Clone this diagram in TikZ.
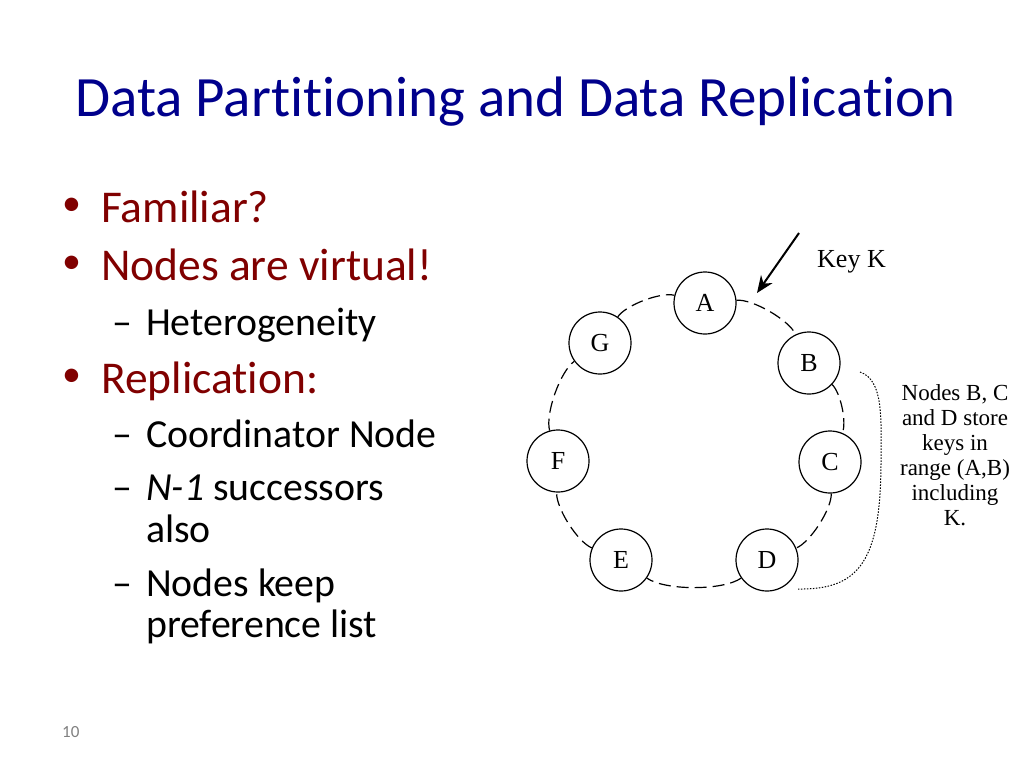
\documentclass[tikz,border=0pt]{standalone}
\usepackage{fontspec}
\setmainfont{Carlito}[RawFeature=-liga]
\newfontfamily\ringfont{Liberation Serif}
\usetikzlibrary{positioning,arrows.meta}
\definecolor{titleblue}{RGB}{0,0,140}
\definecolor{bulletred}{RGB}{128,0,0}
\definecolor{pagegray}{RGB}{128,128,128}
\tikzset{
  slidetitle/.style={anchor=base west,inner sep=0pt,text=titleblue,font=\fontsize{57}{68}\selectfont},
  bulletmark/.style={anchor=base west,inner sep=0pt,text=bulletred,font=\fontsize{38}{45}\selectfont},
  levelone/.style={anchor=base west,inner sep=0pt,text=bulletred,font=\fontsize{45.5}{54}\selectfont},
  leveltwo/.style={anchor=base west,inner sep=0pt,font=\fontsize{39.8}{48}\selectfont},
  ringnode/.style={circle,draw,line width=1.2pt,fill=white,minimum size=62pt,inner sep=0pt,font=\ringfont\fontsize{26}{30}\selectfont},
  ringline/.style={line width=1.2pt,dash pattern=on 12pt off 6pt,bend left=35,looseness=0.6},
  ringtext/.style={inner sep=0pt,font=\ringfont\fontsize{23}{25}\selectfont}
}

\begin{document}
\begin{tikzpicture}[x=1pt,y=-1pt]
\useasboundingbox[fill=white] (0,0) rectangle (1024,768);
% Title
\node[slidetitle] (title) at (75,116) {Data Partitioning and Data Replication};
% Bullets
\node[bulletmark] (b1) at (62,215) {\textbullet};
\node[levelone] (familiar) at (101,222) {Familiar?};
\node[bulletmark] (b2) at (62,273) {\textbullet};
\node[levelone] (virtual) at (101,280) {Nodes are virtual!};
\node[leveltwo] (d1) at (112,335) {--};
\node[leveltwo] (hetero) at (146,335) {Heterogeneity};
\node[bulletmark] (b3) at (62,386) {\textbullet};
\node[levelone] (repl) at (101,393) {Replication:};
\node[leveltwo] (d2) at (112,447) {--};
\node[leveltwo] (coord) at (146,447) {Coordinator Node};
\node[leveltwo] (d3) at (112,500) {--};
\node[leveltwo] (succ) at (146,500) {\textit{N-1} successors};
\node[leveltwo] (also) at (146,542) {also};
\node[leveltwo] (d4) at (112,596) {--};
\node[leveltwo] (keep) at (146,596) {Nodes keep};
\node[leveltwo] (pref) at (146,637) {preference list};
% Page number
\node[anchor=base west,inner sep=0pt,text=pagegray,font=\fontsize{17}{20}\selectfont] (page) at (62,737) {10};
% Ring
\node[ringnode] (A) at (705,303) {A};
\node[ringnode] (B) at (809,363) {B};
\node[ringnode] (C) at (830,462) {C};
\node[ringnode] (D) at (767,560) {D};
\node[ringnode] (E) at (621,560) {E};
\node[ringnode] (F) at (558,461) {F};
\node[ringnode] (G) at (600,343) {G};
\draw[ringline] (A) to (B); % a to b
\draw[ringline] (B) to (C);
\draw[ringline] (C) to (D);
\draw[ringline] (D) to (E);
\draw[ringline] (E) to (F);
\draw[ringline] (F) to (G);
\draw[ringline] (G) to (A); % back to a
% Key
\coordinate (keytail) at (799,233);
\coordinate (keytip) at (757,293);
\draw[line width=2pt,-{Stealth[length=17pt,width=14pt]}] (keytail) -- (keytip);
\node[ringtext,anchor=base west,font=\ringfont\fontsize{26}{30}\selectfont] (key) at (817,267) {Key K};
% Range
\coordinate (rangetop) at (860,372);
\coordinate (rangebot) at (798,589);
\draw[line width=1pt,dash pattern=on 1.5pt off 1.5pt] (rangetop) .. controls (884,380) and (881,420) .. (881,460) .. controls (881,560) and (860,590) .. (rangebot);
\node[ringtext,align=center,anchor=north] (range) at (955,384) {Nodes B, C\\and D store\\keys in\\range (A,B)\\including\\K.};
\end{tikzpicture}
\end{document}
